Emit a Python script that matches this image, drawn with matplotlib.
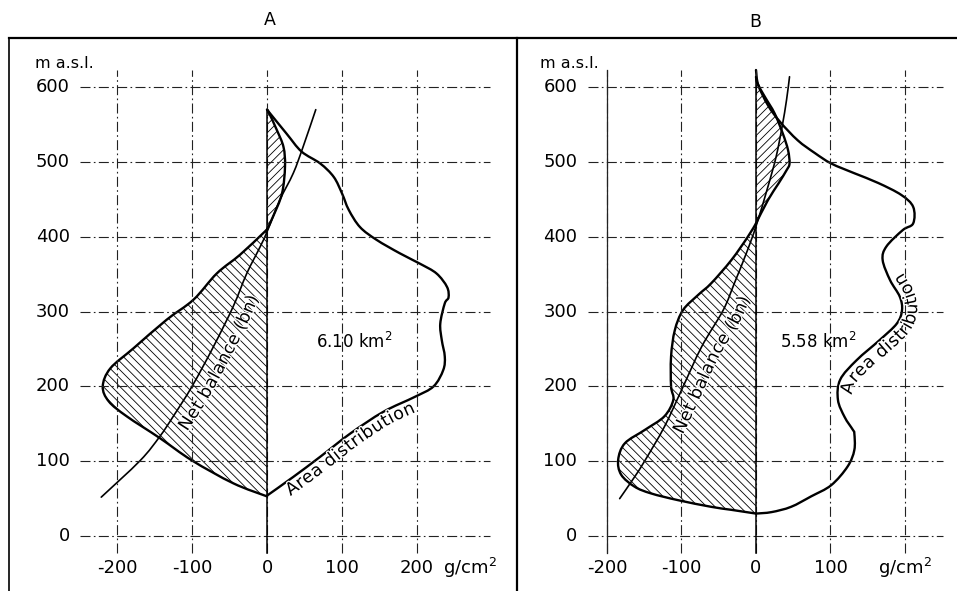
import numpy as np
import matplotlib
matplotlib.use("Agg")
import matplotlib.pyplot as plt
from matplotlib.lines import Line2D
from matplotlib.path import Path
from matplotlib.patches import PathPatch
from matplotlib.font_manager import FontProperties
import matplotlib.patheffects as pe

plt.rcParams["font.family"] = ["DejaVu Sans"]
plt.rcParams["hatch.linewidth"] = 0.6
plt.rcParams["hatch.color"] = "black"

# ---------------- data ----------------
elev_ticks = [0, 100, 200, 300, 400, 500, 600]
bal_ticks = [-200, -100, 0, 100, 200]
bal_tick_labels_a = ["-200", "-100", "0", "100", "200"]
bal_tick_labels_b = ["-200", "-100", "0", "100", "g/cm$^{\\mathregular{2}}$"]

# Glacier A
a_net_x = [-221, -169, -143, -125, -100, -71.5, -45, -27, -9, 1, 17, 35, 48, 65]
a_net_y = [52, 101, 133, 160, 200, 253, 307, 351, 387, 409, 449, 485, 520, 570]

a_abl_x = [0, -45, -100, -143, -187, -211, -219, -209, -178, -134, -98, -67, -36, -5, 0]
a_abl_y = [53, 70.5, 101, 131, 160, 180, 200, 224, 251, 289, 316, 351, 376, 405, 410]

a_acc_x = [0, 8, 20, 24, 22, 13, 2, 0]
a_acc_y = [410, 427, 458, 494, 520, 543, 567, 570]

a_area_x = [0, 35, 71, 111, 155, 197, 222, 235, 237, 233, 231, 237, 242, 240, 226,
            204, 177, 146, 124, 109, 100, 89, 71, 46, 26, 0]
a_area_y = [54, 79, 106, 137, 166, 186, 200, 222, 240, 262, 284, 311, 319, 333, 351,
            364, 378, 396, 413, 436, 458, 480, 498, 514, 538, 570]
a_total = "6.10 km$^{\\mathregular{2}}$"

# Glacier B
b_net_x = [-183, -163, -149, -123, -100, -73, -44, -29, -13, 0, 16, 27, 35, 41, 45]
b_net_y = [50, 79, 101, 146, 195, 253, 302, 338, 378, 414, 467, 507, 547, 583, 614]

b_abl_x = [0, -33, -60, -105, -141, -163, -181, -185, -176, -149, -123, -111, -114,
           -114, -109, -98, -78, -60, -33, -11, 0]
b_abl_y = [30, 35, 39, 48, 57, 66, 82, 102, 124, 142, 160, 182, 200,
           240, 275, 302, 322, 338, 369, 400, 418]

b_acc_x = [0, 16, 30, 41, 45, 43, 36, 25, 12, 2, 0]
b_acc_y = [418, 449, 471, 489, 498, 516, 538, 565, 587, 605, 614]

b_area_x = [0, 21, 47, 74, 101, 123, 132, 132, 130, 119, 110, 113, 135, 166, 189,
            196, 193, 180, 170, 175, 197, 211, 211, 195, 164, 132, 101, 79, 56,
            32, 16, 3, 0]
b_area_y = [30, 32, 39, 53, 68, 93, 115, 137, 142, 159, 182, 209, 235, 262, 284,
            302, 320, 342, 369, 387, 409, 418, 440, 456, 472, 485, 498, 512, 529,
            554, 576, 603, 623]
b_total = "5.58 km$^{\\mathregular{2}}$"

# ---------------- figure ----------------
W, H = 957, 591
fig = plt.figure(figsize=(W / 100, H / 100), dpi=100)

Y_LIM = (-73.5, 665.8)
ax_a = fig.add_axes([9 / W, 0, 508 / W, 553 / H])
ax_a.set_xlim(-344, 333.3)
ax_b = fig.add_axes([517 / W, 0, 440 / W, 553 / H])
ax_b.set_xlim(-320.8, 269.8)
for ax in (ax_a, ax_b):
    ax.set_ylim(*Y_LIM)
    ax.axis("off")

GRID = dict(color="#222222", lw=0.8, dashes=(9, 3, 1.5, 3))
FS = 13
LABEL_FS = 12.5


def smooth_path(xs, ys, closed=False):
    """Cubic Bezier path running through every given point (Catmull-Rom tangents)."""
    p = np.column_stack([xs, ys]).astype(float)
    ext = np.vstack([p[0], p, p[-1]])
    verts, codes = [p[0]], [Path.MOVETO]
    for i in range(len(p) - 1):
        p0, p1, p2, p3 = ext[i], ext[i + 1], ext[i + 2], ext[i + 3]
        verts += [p1 + (p2 - p0) / 6, p2 - (p3 - p1) / 6, p2]
        codes += [Path.CURVE4] * 3
    if closed:
        verts.append(p[0])
        codes.append(Path.CLOSEPOLY)
    return Path(verts, codes)


def draw_grid(ax, x_lo, x_hi, ylab_x, tick_labels):
    for y in elev_ticks:
        ax.plot([x_lo, x_hi], [y, y], **GRID)
        ax.text(ylab_x, y, str(y), ha="right", va="center", fontsize=FS)
    for x, lab in zip(bal_ticks, tick_labels):
        ax.plot([x, x], [-23, 623], **GRID)
        ax.text(x, -43, lab, ha="center", va="center", fontsize=FS)


def _arc(pts):
    seg = np.hypot(*np.diff(pts, axis=0).T)
    keep = np.concatenate([[True], seg > 1e-6])
    pts = pts[keep]
    seg = np.hypot(*np.diff(pts, axis=0).T)
    return pts, np.concatenate([[0.0], np.cumsum(seg)])


def curved_label(ax, xs, ys, text, y_center, offset, size, tracking=0.4):
    """Set text letter by letter along a curve (followed with rising y), on a
    parallel line `offset` pixels to the right-hand side of the direction of travel."""
    pts = smooth_path(xs, ys).to_polygons(transform=ax.transData, closed_only=False)[0]
    pts, arc = _arc(pts)

    def at(a, arc_, s):
        return np.array([np.interp(s, arc_, a[:, 0]), np.interp(s, arc_, a[:, 1])])

    # parallel line at the requested offset
    tang = np.array([at(pts, arc, s + 5) - at(pts, arc, s - 5) for s in arc])
    tang /= np.hypot(tang[:, 0], tang[:, 1])[:, None]
    norm = np.column_stack([tang[:, 1], -tang[:, 0]])
    off = pts + norm * offset
    y_disp = ax.transData.transform([[0, y_center]])[0, 1]
    s_mid_curve = np.interp(y_disp, pts[:, 1], arc)
    off_pts, off_arc = _arc(off)
    # arc position on the parallel line matching the chosen curve point
    k = np.searchsorted(arc, s_mid_curve).clip(0, len(arc) - 1)
    ref = at(pts, arc, s_mid_curve) + norm[k] * offset
    s_mid = off_arc[np.argmin(np.hypot(*(off_pts - ref).T))]

    renderer = fig.canvas.get_renderer()
    prop = FontProperties(family="DejaVu Sans", size=size)

    def width(s):
        return renderer.get_text_width_height_descent(s, prop, ismath=False)[0]

    total = width(text) + tracking * (len(text) - 1)
    start = s_mid - total / 2
    inv = ax.transData.inverted()
    for i, ch in enumerate(text):
        if ch == " ":
            continue
        wi = width(ch)
        s = start + width(text[: i + 1]) - wi / 2 + tracking * i
        t = at(off_pts, off_arc, s + 5) - at(off_pts, off_arc, s - 5)
        ang = np.degrees(np.arctan2(t[1], t[0]))
        bx, by = inv.transform(at(off_pts, off_arc, s))
        ax.text(bx, by, ch, rotation=ang, rotation_mode="anchor", ha="center",
                va="baseline", fontsize=size,
                path_effects=[pe.withStroke(linewidth=1.8, foreground="white")])


def draw_panel(ax, net_x, net_y, abl_x, abl_y, acc_x, acc_y, area_x, area_y):
    ax.add_patch(PathPatch(smooth_path(abl_x, abl_y, closed=True), facecolor="none",
                           edgecolor="black", hatch="\\\\\\\\", lw=0))
    ax.add_patch(PathPatch(smooth_path(acc_x, acc_y, closed=True), facecolor="none",
                           edgecolor="black", hatch="////", lw=0))
    ax.plot([0, 0], [-23, max(acc_y)], color="black", lw=1.1)
    for xs, ys, lw in ((abl_x, abl_y, 1.7), (acc_x, acc_y, 1.7),
                       (area_x, area_y, 1.7), (net_x, net_y, 1.2)):
        ax.add_patch(PathPatch(smooth_path(xs, ys), fill=False, edgecolor="black",
                               lw=lw, joinstyle="round", capstyle="round"))


# Panel A
draw_grid(ax_a, -249, 297, -263, bal_tick_labels_a)
ax_a.text(235, -43, "g/cm$^{\\mathregular{2}}$", ha="left", va="center", fontsize=FS)
draw_panel(ax_a, a_net_x, a_net_y, a_abl_x, a_abl_y, a_acc_x, a_acc_y, a_area_x, a_area_y)
ax_a.text(-309, 632, "m a.s.l.", ha="left", va="center", fontsize=11.5)
ax_a.text(117, 259, a_total, ha="center", va="center", fontsize=12)
curved_label(ax_a, a_net_x, a_net_y, "Net balance (bn)", 245, 20, LABEL_FS)
curved_label(ax_a, a_area_x[:8], a_area_y[:8], "Area distribution", 130, 14, LABEL_FS)

# Panel B
draw_grid(ax_b, -225, 251, -240, bal_tick_labels_b)
ax_b.plot([-200, -200], [-23, 623], color="#222222", lw=0.9)
draw_panel(ax_b, b_net_x, b_net_y, b_abl_x, b_abl_y, b_acc_x, b_acc_y, b_area_x, b_area_y)
ax_b.text(-290, 632, "m a.s.l.", ha="left", va="center", fontsize=11.5)
ax_b.text(83, 259, b_total, ha="center", va="center", fontsize=12)
curved_label(ax_b, b_net_x, b_net_y, "Net balance (bn)", 234, 20, LABEL_FS)
curved_label(ax_b, b_area_x[8:21], b_area_y[8:21], "Area distribution", 276, 15, LABEL_FS)

# Frame and panel titles
fig.add_artist(Line2D([9 / W, 1], [1 - 38 / H, 1 - 38 / H], color="black", lw=1.6))
fig.add_artist(Line2D([9 / W, 9 / W], [0, 1 - 38 / H], color="black", lw=1.2))
fig.add_artist(Line2D([517 / W, 517 / W], [0, 1 - 38 / H], color="black", lw=1.6))
fig.text(270 / W, 1 - 20 / H, "A", ha="center", va="center", fontsize=12.5)
fig.text(755 / W, 1 - 22 / H, "B", ha="center", va="center", fontsize=12.5)

fig.savefig("out.png", dpi=100)
